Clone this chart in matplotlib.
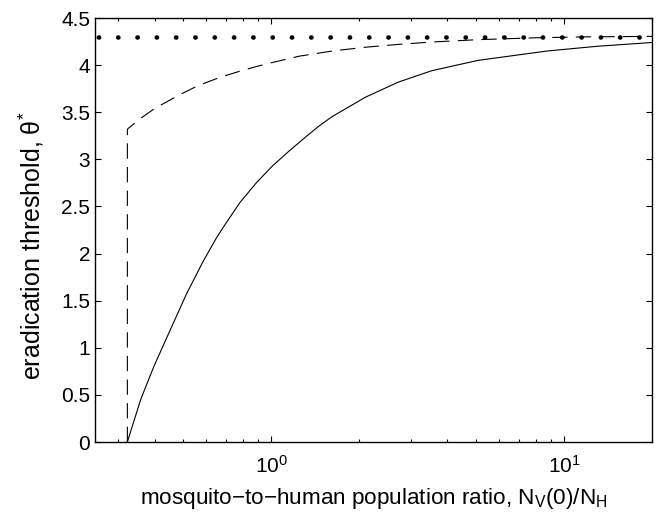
import numpy as np
import matplotlib
matplotlib.use('Agg')
import matplotlib.pyplot as plt
from matplotlib.ticker import LogLocator, MultipleLocator, NullFormatter

# Threshold curves vs. mosquito-to-human ratio
ratio_lim = [0.25, 20]
theta_max = 4.3  # upper bound on the threshold

dashed_x = [0.3225, 0.3225, 0.331, 0.36, 0.40, 0.476, 0.56, 0.668, 0.78, 0.878,
            1.0, 1.247, 1.618, 2.10, 2.72, 3.53, 5.08, 8.0, 12.0, 20.0]
dashed_y = [0.0, 3.32, 3.35, 3.44, 3.54, 3.67, 3.78, 3.87, 3.935, 3.98,
            4.025, 4.095, 4.15, 4.19, 4.22, 4.245, 4.27, 4.29, 4.30, 4.305]

solid_x = [0.3225, 0.358, 0.397, 0.452, 0.515, 0.586, 0.651, 0.686, 0.781, 0.889,
           1.01, 1.153, 1.314, 1.458, 1.618, 2.10, 2.72, 3.53, 5.08, 8.78, 13.0, 20.0]
solid_y = [0.0, 0.45, 0.80, 1.19, 1.58, 1.92, 2.17, 2.28, 2.54, 2.75,
           2.93, 3.09, 3.24, 3.355, 3.455, 3.66, 3.82, 3.94, 4.05, 4.15, 4.20, 4.24]

plt.rcParams['font.family'] = ['Liberation Sans', 'DejaVu Sans']
plt.rcParams['mathtext.fontset'] = 'custom'
plt.rcParams['mathtext.rm'] = 'Liberation Sans'
plt.rcParams['mathtext.it'] = 'Liberation Sans:italic'
plt.rcParams['mathtext.default'] = 'regular'
plt.rcParams['lines.scale_dashes'] = False

tick_fs = 15
fig = plt.figure(figsize=(6.57, 5.13), dpi=100)
ax = fig.add_axes([0.1446, 0.1384, 0.8478, 0.8265])

# dotted bound: round dots ~19 px apart
ax.plot(ratio_lim, [theta_max, theta_max], color='k', linewidth=3.3,
        linestyle=(11.5, (0.2, 13.7)), dash_capstyle='round')
ax.plot(dashed_x, dashed_y, color='k', linewidth=0.8, linestyle=(0, (11, 6)))
ax.plot(solid_x, solid_y, color='k', linewidth=0.8)

ax.set_xscale('log')
ax.set_xlim(ratio_lim)
ax.set_ylim(0, 4.5)
ax.yaxis.set_major_locator(MultipleLocator(0.5))
ax.xaxis.set_major_locator(LogLocator(base=10, numticks=10))
ax.xaxis.set_minor_locator(LogLocator(base=10, subs=np.arange(2, 10), numticks=10))
ax.xaxis.set_minor_formatter(NullFormatter())

ax.tick_params(axis='both', which='both', direction='in', top=True, right=True,
               labelsize=tick_fs, width=0.8)
ax.tick_params(axis='y', pad=3.5)
ax.tick_params(axis='x', pad=9.5)
ax.tick_params(which='major', length=4.5)
ax.tick_params(which='minor', length=2.5)
ax.set_yticks(np.arange(0, 4.51, 0.5))
ax.set_yticklabels(['0', '0.5', '1', '1.5', '2', '2.5', '3', '3.5', '4', '4.5'])
for s in ax.spines.values():
    s.set_linewidth(1.0)

ax.set_xlabel('mosquito\u2212to\u2212human population ratio, N$_{V}$(0)/N$_{H}$',
              fontsize=16.2, labelpad=6.5)
ax.set_ylabel('eradication threshold, \u03b8$^{*}$', fontsize=18)
ax.yaxis.set_label_coords(-0.088, 0.462)

fig.savefig('out.png', dpi=100)
